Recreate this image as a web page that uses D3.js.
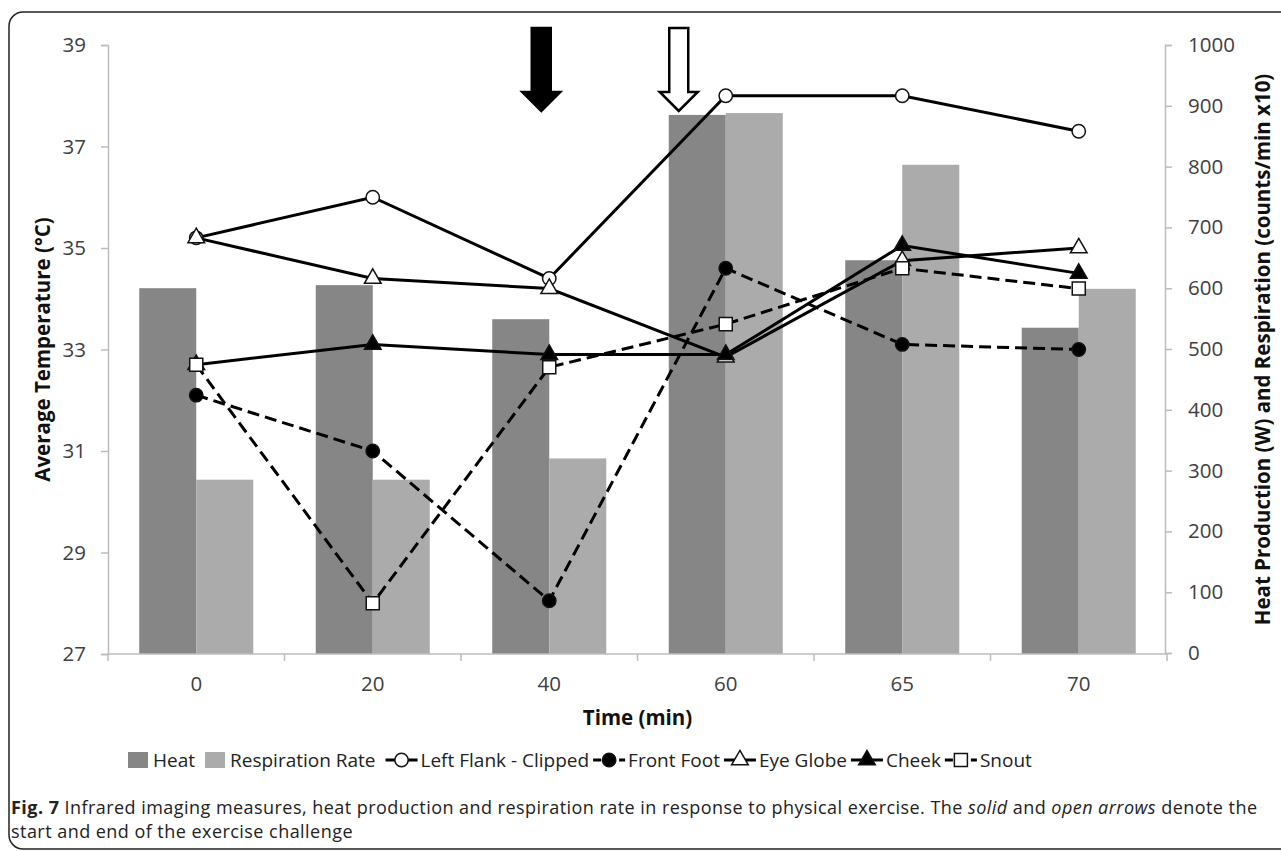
<!DOCTYPE html>
<html>
<head>
<meta charset="utf-8">
<script src="https://cdn.jsdelivr.net/npm/d3@7"></script>
<style>
  body { margin: 0; background: #fff; }
  svg text { font-family: "Open Sans", "Noto Sans", sans-serif; }
  .tick-label { fill: #404040; font-size: 20.5px; }
  .axis-title { fill: #111; font-size: 20.5px; font-weight: bold; }
  .legend-label { fill: #222; font-size: 19px; }
  .caption { font-size: 18px; fill: #222; }
</style>
</head>
<body>
<svg id="chart" width="1281" height="851"></svg>
<script>
const times = ['0', '20', '40', '60', '65', '70'];
const heat = [600, 605, 549, 885, 646, 535];
const respiration = [285, 285, 320, 888, 803, 599];
const leftFlank = [35.2, 36.0, 34.4, 38.0, 38.0, 37.3];
const frontFoot = [32.1, 31.0, 28.05, 34.6, 33.1, 33.0];
const eyeGlobe = [35.2, 34.4, 34.2, 32.85, 34.75, 35.0];
const cheek = [32.7, 33.1, 32.9, 32.9, 35.05, 34.5];
const snout = [32.7, 28.0, 32.65, 33.5, 34.6, 34.2];
const tempTicks = [27, 29, 31, 33, 35, 37, 39];
const heatTicks = [0, 100, 200, 300, 400, 500, 600, 700, 800, 900, 1000];

const svg = d3.select('#chart');
const plotLeft = 108, plotRight = 1167, plotTop = 45, plotBottom = 654;
const axisColor = '#bdbdbd';
const heatColor = '#868686';
const respColor = '#ababab';

// frame round the figure
svg.append('rect')
  .attr('x', 9).attr('y', 12)
  .attr('width', 1300).attr('height', 837)
  .attr('rx', 14)
  .attr('fill', 'none').attr('stroke', '#222').attr('stroke-width', 1.5);

const x = d3.scaleBand().domain(times).range([plotLeft, plotRight])
  .paddingInner(0.354).paddingOuter(0.177);
const xSub = d3.scaleBand().domain(['heat', 'resp']).range([0, x.bandwidth()]);
const yTemp = d3.scaleLinear().domain([27, 39]).range([plotBottom, plotTop]);
const yHeat = d3.scaleLinear().domain([0, 1000]).range([plotBottom - 1, plotTop]);
const cx = t => x(t) + x.bandwidth() / 2;

// bars
const barData = times.map((t, i) => ({t: t, heat: heat[i], resp: respiration[i]}));
const groups = svg.append('g').selectAll('g').data(barData).join('g')
  .attr('transform', d => `translate(${x(d.t)},0)`);
groups.append('rect')
  .attr('x', xSub('heat')).attr('width', xSub.bandwidth())
  .attr('y', d => yHeat(d.heat)).attr('height', d => plotBottom - yHeat(d.heat))
  .attr('fill', heatColor);
groups.append('rect')
  .attr('x', xSub('resp')).attr('width', xSub.bandwidth())
  .attr('y', d => yHeat(d.resp)).attr('height', d => plotBottom - yHeat(d.resp))
  .attr('fill', respColor);

// axes
const leftAxis = svg.append('g').attr('transform', `translate(${plotLeft},0)`)
  .call(d3.axisLeft(yTemp).tickValues(tempTicks).tickSize(7).tickPadding(15));
const rightAxis = svg.append('g').attr('transform', `translate(${plotRight - 2},0)`)
  .call(d3.axisRight(yHeat).tickValues(heatTicks).tickFormat(d3.format('d')).tickSize(7).tickPadding(16));
const bottomAxis = svg.append('g').attr('transform', `translate(0,${plotBottom})`)
  .call(d3.axisBottom(x).tickSize(0).tickPadding(22));
[leftAxis, rightAxis, bottomAxis].forEach(a => {
  a.selectAll('path.domain').attr('stroke', axisColor).attr('stroke-width', 1.5);
  a.selectAll('line').attr('stroke', axisColor).attr('stroke-width', 1.5);
  a.selectAll('text').attr('class', 'tick-label').attr('font-family', null).attr('font-size', null);
});
bottomAxis.selectAll('path.domain').attr('d', `M${plotLeft},0H${plotRight}`);
bottomAxis.selectAll('.boundary').data(d3.range(times.length + 1)).join('line')
  .attr('x1', i => plotLeft + i * x.step()).attr('x2', i => plotLeft + i * x.step())
  .attr('y1', 0).attr('y2', 7)
  .attr('stroke', axisColor).attr('stroke-width', 1.5);

svg.append('text').attr('class', 'axis-title')
  .attr('transform', `translate(50,${(plotTop + plotBottom) / 2}) rotate(-90)`)
  .attr('text-anchor', 'middle').text('Average Temperature (°C)');
svg.append('text').attr('class', 'axis-title')
  .attr('transform', `translate(1270,${(plotTop + plotBottom) / 2}) rotate(-90)`)
  .attr('text-anchor', 'middle').text('Heat Production (W) and Respiration (counts/min x10)');
svg.append('text').attr('class', 'axis-title')
  .attr('x', (plotLeft + plotRight) / 2).attr('y', 725)
  .attr('text-anchor', 'middle').text('Time (min)');

// line series
const series = [
  {name: 'Left Flank - Clipped', values: leftFlank, dashed: false, marker: 'circle', fill: '#fff'},
  {name: 'Front Foot', values: frontFoot, dashed: true, marker: 'circle', fill: '#000'},
  {name: 'Eye Globe', values: eyeGlobe, dashed: false, marker: 'triangle', fill: '#fff'},
  {name: 'Cheek', values: cheek, dashed: false, marker: 'triangle', fill: '#000'},
  {name: 'Snout', values: snout, dashed: true, marker: 'square', fill: '#fff'}
];
const symbolSize = {circle: 140, triangle: 120, square: 170};
const symbolType = {circle: d3.symbolCircle, triangle: d3.symbolTriangle, square: d3.symbolSquare};

function drawMarker(g, s, px, py) {
  g.append('path')
    .attr('d', d3.symbol().type(symbolType[s.marker]).size(symbolSize[s.marker])())
    .attr('transform', `translate(${px},${py})`)
    .attr('fill', s.fill).attr('stroke', '#111').attr('stroke-width', 1.5);
}

const line = d3.line().x(d => cx(d.t)).y(d => yTemp(d.v));
series.forEach(s => {
  const pts = times.map((t, i) => ({t: t, v: s.values[i]}));
  const g = svg.append('g');
  g.append('path').datum(pts).attr('d', line)
    .attr('fill', 'none').attr('stroke', '#000').attr('stroke-width', 3)
    .attr('stroke-dasharray', s.dashed ? '12 6' : null);
  pts.forEach(p => drawMarker(g, s, cx(p.t), yTemp(p.v)));
});

// arrows marking start and end of the exercise
function arrow(xc, filled) {
  const p = d3.path();
  p.moveTo(xc - 9.5, 28); p.lineTo(xc + 9.5, 28); p.lineTo(xc + 9.5, 92);
  p.lineTo(xc + 19, 92); p.lineTo(xc, 111); p.lineTo(xc - 19, 92);
  p.lineTo(xc - 9.5, 92); p.closePath();
  svg.append('path').attr('d', p.toString())
    .attr('fill', filled ? '#000' : '#fff').attr('stroke', '#000').attr('stroke-width', 2.5);
}
arrow(cx('40') - 8, true);
arrow(cx('60') - 47, false);

// legend
const legend = svg.append('g').attr('transform', 'translate(128,760)');
let lx = 0;
[{name: 'Heat', color: heatColor}, {name: 'Respiration Rate', color: respColor}].forEach(b => {
  legend.append('rect').attr('x', lx).attr('y', -8).attr('width', 20).attr('height', 16).attr('fill', b.color);
  const t = legend.append('text').attr('class', 'legend-label').attr('x', lx + 25).attr('y', 6.5).text(b.name);
  lx += 25 + t.node().getComputedTextLength() + 10;
});
series.forEach(s => {
  legend.append('line').attr('x1', lx).attr('x2', lx + 32).attr('y1', 0).attr('y2', 0)
    .attr('stroke', '#000').attr('stroke-width', 3).attr('stroke-dasharray', s.dashed ? '8 5' : null);
  drawMarker(legend, s, lx + 16, 0);
  const t = legend.append('text').attr('class', 'legend-label').attr('x', lx + 35).attr('y', 6.5).text(s.name);
  lx += 35 + t.node().getComputedTextLength() + 4;
});

// caption
const cap1 = svg.append('text').attr('class', 'caption').attr('x', 11).attr('y', 814);
cap1.append('tspan').attr('font-weight', 'bold').text('Fig. 7');
cap1.append('tspan').text(' Infrared imaging measures, heat production and respiration rate in response to physical exercise. The ');
cap1.append('tspan').attr('font-style', 'italic').text('solid');
cap1.append('tspan').text(' and ');
cap1.append('tspan').attr('font-style', 'italic').text('open arrows');
cap1.append('tspan').text(' denote the');
const natural = cap1.node().getComputedTextLength();
cap1.attr('textLength', 1246).attr('lengthAdjust', 'spacing');
const cap2 = svg.append('text').attr('class', 'caption').attr('x', 11).attr('y', 838)
  .text('start and end of the exercise challenge');
cap2.attr('textLength', cap2.node().getComputedTextLength() * 1246 / natural).attr('lengthAdjust', 'spacing');
</script>
</body>
</html>
